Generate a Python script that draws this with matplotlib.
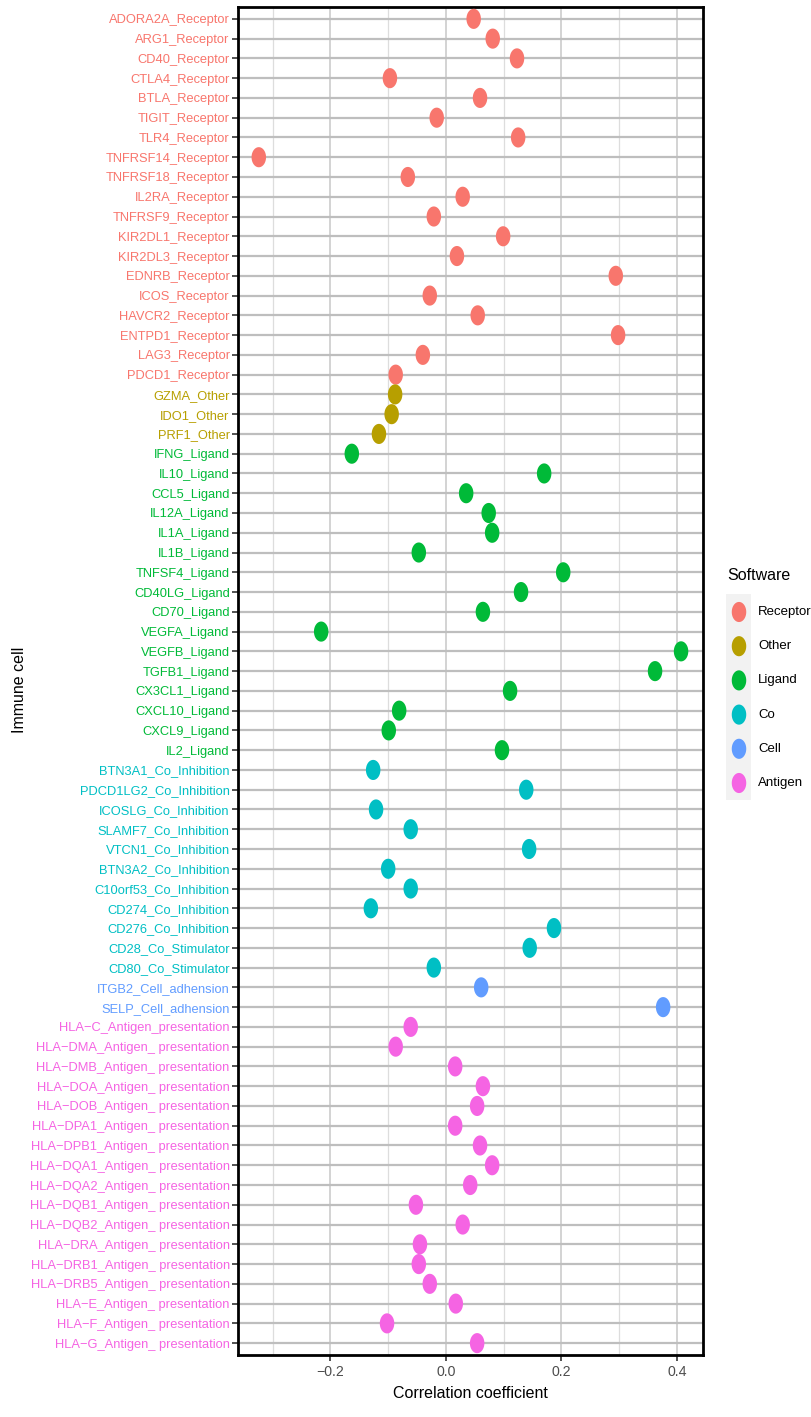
import matplotlib
matplotlib.use("Agg")
import matplotlib.pyplot as plt
import numpy as np
from matplotlib.path import Path

plt.rcParams['font.family'] = ['Liberation Sans', 'DejaVu Sans']

categories = [
    "ADORA2A_Receptor", "ARG1_Receptor", "CD40_Receptor", "CTLA4_Receptor", "BTLA_Receptor",
    "TIGIT_Receptor", "TLR4_Receptor", "TNFRSF14_Receptor", "TNFRSF18_Receptor", "IL2RA_Receptor",
    "TNFRSF9_Receptor", "KIR2DL1_Receptor", "KIR2DL3_Receptor", "EDNRB_Receptor", "ICOS_Receptor",
    "HAVCR2_Receptor", "ENTPD1_Receptor", "LAG3_Receptor", "PDCD1_Receptor",
    "GZMA_Other", "IDO1_Other", "PRF1_Other",
    "IFNG_Ligand", "IL10_Ligand", "CCL5_Ligand", "IL12A_Ligand", "IL1A_Ligand", "IL1B_Ligand",
    "TNFSF4_Ligand", "CD40LG_Ligand", "CD70_Ligand", "VEGFA_Ligand", "VEGFB_Ligand", "TGFB1_Ligand",
    "CX3CL1_Ligand", "CXCL10_Ligand", "CXCL9_Ligand", "IL2_Ligand",
    "BTN3A1_Co_Inhibition", "PDCD1LG2_Co_Inhibition", "ICOSLG_Co_Inhibition", "SLAMF7_Co_Inhibition",
    "VTCN1_Co_Inhibition", "BTN3A2_Co_Inhibition", "C10orf53_Co_Inhibition", "CD274_Co_Inhibition",
    "CD276_Co_Inhibition", "CD28_Co_Stimulator", "CD80_Co_Stimulator",
    "ITGB2_Cell_adhension", "SELP_Cell_adhension",
    "HLA\u2212C_Antigen_presentation", "HLA\u2212DMA_Antigen_ presentation", "HLA\u2212DMB_Antigen_ presentation",
    "HLA\u2212DOA_Antigen_ presentation", "HLA\u2212DOB_Antigen_ presentation", "HLA\u2212DPA1_Antigen_ presentation",
    "HLA\u2212DPB1_Antigen_ presentation", "HLA\u2212DQA1_Antigen_ presentation", "HLA\u2212DQA2_Antigen_ presentation",
    "HLA\u2212DQB1_Antigen_ presentation", "HLA\u2212DQB2_Antigen_ presentation", "HLA\u2212DRA_Antigen_ presentation",
    "HLA\u2212DRB1_Antigen_ presentation", "HLA\u2212DRB5_Antigen_ presentation", "HLA\u2212E_Antigen_ presentation",
    "HLA\u2212F_Antigen_ presentation", "HLA\u2212G_Antigen_ presentation",
]

values = [
    0.048, 0.081, 0.123, -0.097, 0.059, -0.016, 0.125, -0.324, -0.066, 0.029,
    -0.021, 0.099, 0.019, 0.294, -0.028, 0.055, 0.298, -0.040, -0.087,
    -0.088, -0.094, -0.116,
    -0.163, 0.170, 0.035, 0.074, 0.080, -0.047, 0.203, 0.130, 0.064, -0.216,
    0.407, 0.362, 0.111, -0.081, -0.099, 0.097,
    -0.126, 0.139, -0.121, -0.061, 0.144, -0.100, -0.061, -0.130, 0.187, 0.145, -0.021,
    0.061, 0.376,
    -0.061, -0.087, 0.016, 0.064, 0.054, 0.016, 0.059, 0.080, 0.042, -0.052,
    0.029, -0.045, -0.047, -0.028, 0.017, -0.102, 0.054,
]

groups = (["Receptor"] * 19 + ["Other"] * 3 + ["Ligand"] * 16 + ["Co"] * 11
          + ["Cell"] * 2 + ["Antigen"] * 17)

group_order = ["Receptor", "Other", "Ligand", "Co", "Cell", "Antigen"]
group_colors = ["#F8766D", "#B79F00", "#00BA38", "#00BFC4", "#619CFF", "#F564E3"]
cmap = dict(zip(group_order, group_colors))

x_ticks = [-0.2, 0.0, 0.2, 0.4]
x_tick_labels = ["\u22120.2", "0.0", "0.2", "0.4"]

# ellipse marker (taller than wide)
t = np.linspace(0, 2 * np.pi, 60)
ell = Path(np.column_stack([0.72 * np.cos(t), np.sin(t)]), closed=True)

W, H = 812, 1417
fig = plt.figure(figsize=(W / 100, H / 100), dpi=100)
ax = fig.add_axes([238 / W, 1 - 1355 / H, (703 - 238) / W, (1355 - 7) / H])

n = len(categories)
ypos = np.arange(n)[::-1]

ax.set_xlim(-0.360, 0.445)
ax.set_ylim(-0.6, n - 1 + 0.6)

ax.set_xticks(x_ticks)
ax.set_xticklabels(x_tick_labels)
ax.set_xticks([-0.3, -0.1, 0.1, 0.3], minor=True)
ax.grid(axis='x', which='major', color='#C8C8C8', linewidth=1.1)
ax.grid(axis='x', which='minor', color='#DDDDDD', linewidth=0.9)
ax.grid(axis='y', which='major', color='#BEBEBE', linewidth=1.6)
ax.set_axisbelow(True)

cols = [cmap[g] for g in groups]
ax.scatter(values, ypos, s=210, marker=ell, c=cols, linewidths=0, zorder=3)

ax.set_yticks(ypos)
ax.set_yticklabels(categories)
for lbl, g in zip(ax.get_yticklabels(), groups):
    lbl.set_color(cmap[g])

ax.tick_params(axis='y', which='major', labelsize=9.3, length=4, width=1.2, color='#333333', pad=2)
ax.tick_params(axis='x', which='major', labelsize=10.2, length=4, width=1.2, color='#333333',
               labelcolor='#4D4D4D', pad=3)
ax.tick_params(axis='x', which='minor', length=0)

for sp in ax.spines.values():
    sp.set_linewidth(2.0)
    sp.set_color('black')

ax.set_xlabel("Correlation coefficient", fontsize=11.5, labelpad=5)
fig.text(20 / W, 1 - 690 / H, "Immune cell", rotation=90, fontsize=11.5,
         ha='center', va='center')

# legend drawn in its own small axes
lx0, lx1, ly0, ly1 = 726, 812, 594, 800
lax = fig.add_axes([lx0 / W, 1 - ly1 / H, (lx1 - lx0) / W, (ly1 - ly0) / H])
lax.set_xlim(0, lx1 - lx0)
lax.set_ylim(len(group_order) - 1 + 0.497, -0.526)
lax.axis('off')
lax.axvspan(0, 25, color='#F2F2F2', zorder=0, linewidth=0)
lidx = np.arange(len(group_order))
lax.scatter([13] * len(group_order), lidx, s=210, marker=ell, c=group_colors,
            linewidths=0, zorder=3, clip_on=False)
for i, name in zip(lidx, group_order):
    lax.text(32, i, name, fontsize=9.5, ha='left', va='center', clip_on=False)
fig.text(727 / W, 1 - 575 / H, "Software", fontsize=11.5, ha='left', va='center')

fig.savefig("out.png", dpi=100)
